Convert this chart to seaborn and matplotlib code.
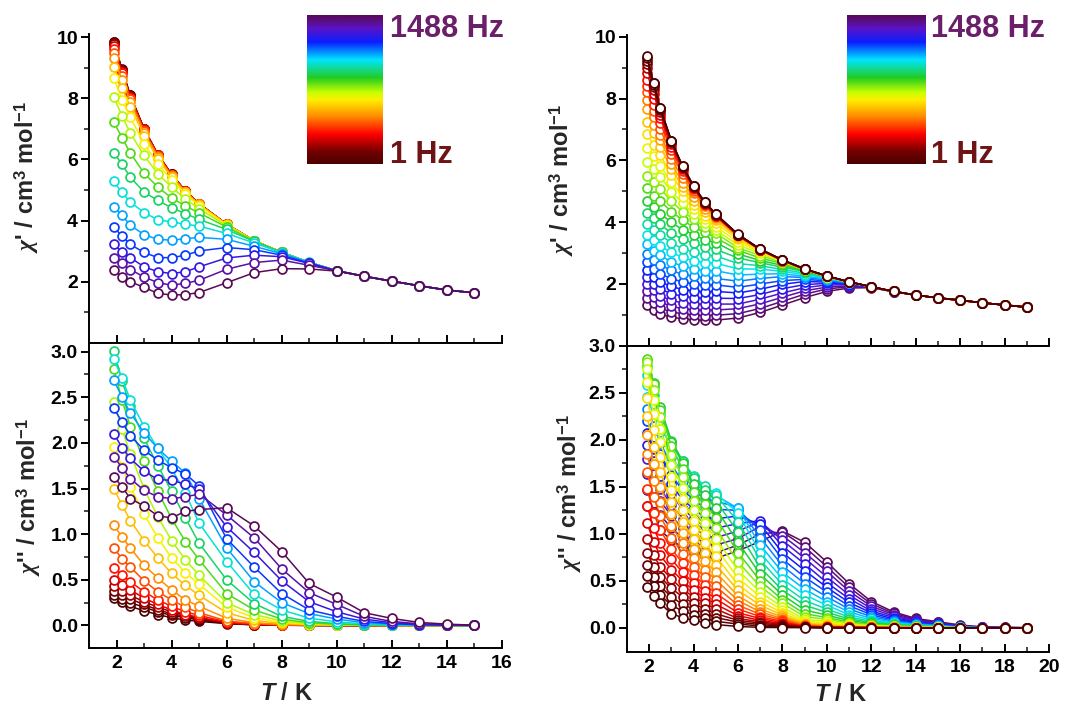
import numpy as np
import pandas as pd
import matplotlib
matplotlib.use("Agg")
import matplotlib.pyplot as plt
import seaborn as sns
from matplotlib.colors import LinearSegmentedColormap
from matplotlib.ticker import FixedLocator

sns.set_theme(style="ticks")
plt.rcParams["font.family"] = ["Liberation Sans", "DejaVu Sans"]
plt.rcParams["font.weight"] = "bold"
plt.rcParams["mathtext.fontset"] = "custom"
plt.rcParams["mathtext.rm"] = "Liberation Sans:bold"
plt.rcParams["mathtext.bf"] = "Liberation Sans:bold"
plt.rcParams["mathtext.it"] = "Liberation Serif:bold:italic"
plt.rcParams["mathtext.sf"] = "Liberation Sans:bold:italic"

# ---------------- data: left sample (19 frequencies, 1 Hz ... 1488 Hz) ----------------
T_left = [1.9, 2.2, 2.5, 3, 3.5, 4, 4.5, 5, 6, 7, 8, 9, 10, 11, 12, 13, 14, 15]

# chi' (one row per frequency, low -> high)
chi1_left = [
    [9.85, 8.94, 8.09, 7.00, 6.16, 5.51, 4.97, 4.55, 3.88, 3.34, 2.96, 2.63, 2.36, 2.18, 2.02, 1.87, 1.73, 1.64],
    [9.84, 8.93, 8.09, 7.00, 6.16, 5.51, 4.97, 4.55, 3.88, 3.34, 2.96, 2.63, 2.36, 2.18, 2.02, 1.87, 1.73, 1.64],
    [9.82, 8.92, 8.08, 6.99, 6.16, 5.51, 4.97, 4.55, 3.88, 3.34, 2.96, 2.63, 2.36, 2.18, 2.02, 1.87, 1.73, 1.64],
    [9.78, 8.90, 8.07, 6.99, 6.15, 5.50, 4.97, 4.55, 3.88, 3.34, 2.96, 2.63, 2.36, 2.18, 2.02, 1.87, 1.73, 1.64],
    [9.72, 8.87, 8.05, 6.98, 6.15, 5.50, 4.96, 4.54, 3.88, 3.34, 2.96, 2.63, 2.36, 2.18, 2.02, 1.87, 1.73, 1.64],
    [9.62, 8.82, 8.02, 6.96, 6.14, 5.49, 4.96, 4.54, 3.88, 3.34, 2.96, 2.63, 2.36, 2.18, 2.02, 1.87, 1.73, 1.64],
    [9.48, 8.74, 7.97, 6.93, 6.12, 5.48, 4.95, 4.54, 3.88, 3.34, 2.96, 2.63, 2.36, 2.18, 2.02, 1.87, 1.73, 1.64],
    [9.30, 8.60, 7.88, 6.88, 6.09, 5.46, 4.94, 4.53, 3.88, 3.34, 2.96, 2.63, 2.36, 2.18, 2.02, 1.87, 1.73, 1.64],
    [9.03, 8.34, 7.73, 6.78, 6.02, 5.42, 4.92, 4.52, 3.87, 3.34, 2.96, 2.63, 2.36, 2.18, 2.02, 1.87, 1.73, 1.64],
    [8.66, 7.95, 7.38, 6.51, 5.86, 5.32, 4.86, 4.49, 3.86, 3.34, 2.96, 2.63, 2.36, 2.18, 2.02, 1.87, 1.73, 1.64],
    [8.03, 7.43, 6.86, 6.13, 5.53, 5.10, 4.70, 4.39, 3.83, 3.34, 2.96, 2.63, 2.36, 2.18, 2.02, 1.87, 1.73, 1.64],
    [7.22, 6.71, 6.21, 5.55, 5.10, 4.74, 4.48, 4.25, 3.79, 3.33, 2.96, 2.63, 2.36, 2.18, 2.02, 1.87, 1.73, 1.64],
    [6.22, 5.84, 5.42, 4.93, 4.66, 4.42, 4.23, 4.04, 3.71, 3.32, 2.96, 2.63, 2.36, 2.18, 2.02, 1.87, 1.73, 1.64],
    [5.28, 4.92, 4.61, 4.26, 4.03, 3.96, 3.88, 3.82, 3.58, 3.27, 2.95, 2.64, 2.36, 2.18, 2.02, 1.87, 1.73, 1.64],
    [4.45, 4.17, 3.85, 3.54, 3.39, 3.36, 3.41, 3.45, 3.39, 3.16, 2.92, 2.63, 2.36, 2.18, 2.02, 1.87, 1.73, 1.64],
    [3.79, 3.49, 3.22, 2.96, 2.79, 2.79, 2.87, 3.01, 3.12, 3.05, 2.87, 2.61, 2.36, 2.18, 2.02, 1.87, 1.73, 1.64],
    [3.22, 2.98, 2.79, 2.49, 2.33, 2.27, 2.33, 2.49, 2.78, 2.87, 2.82, 2.60, 2.36, 2.18, 2.02, 1.87, 1.73, 1.64],
    [2.79, 2.60, 2.40, 2.16, 1.97, 1.89, 1.95, 2.05, 2.41, 2.63, 2.71, 2.54, 2.36, 2.18, 2.02, 1.87, 1.73, 1.64],
    [2.40, 2.16, 2.00, 1.82, 1.62, 1.57, 1.58, 1.65, 1.97, 2.30, 2.43, 2.42, 2.35, 2.18, 2.02, 1.87, 1.73, 1.64],
]

# chi'' (one row per frequency, low -> high)
chi2_left = [
    [0.30, 0.26, 0.21, 0.16, 0.12, 0.085, 0.06, 0.045, 0.02, 0.007, 0.003, 0.001, 0.0, 0.0, 0.0, 0.0, 0.0, 0.0],
    [0.33, 0.29, 0.25, 0.20, 0.15, 0.11, 0.085, 0.06, 0.022, 0.008, 0.003, 0.001, 0.0, 0.0, 0.0, 0.0, 0.0, 0.0],
    [0.38, 0.33, 0.29, 0.23, 0.17, 0.13, 0.10, 0.07, 0.025, 0.009, 0.004, 0.001, 0.0, 0.0, 0.0, 0.0, 0.0, 0.0],
    [0.43, 0.38, 0.33, 0.26, 0.20, 0.15, 0.11, 0.08, 0.028, 0.010, 0.004, 0.002, 0.0, 0.0, 0.0, 0.0, 0.0, 0.0],
    [0.50, 0.44, 0.39, 0.30, 0.23, 0.17, 0.12, 0.09, 0.03, 0.012, 0.005, 0.002, 0.001, 0.0, 0.0, 0.0, 0.0, 0.0],
    [0.63, 0.55, 0.48, 0.37, 0.28, 0.21, 0.15, 0.11, 0.04, 0.015, 0.006, 0.002, 0.001, 0.0, 0.0, 0.0, 0.0, 0.0],
    [0.85, 0.73, 0.64, 0.49, 0.37, 0.28, 0.20, 0.14, 0.05, 0.020, 0.008, 0.003, 0.001, 0.0, 0.0, 0.0, 0.0, 0.0],
    [1.10, 0.97, 0.85, 0.66, 0.52, 0.39, 0.28, 0.21, 0.08, 0.030, 0.012, 0.005, 0.002, 0.001, 0.0, 0.0, 0.0, 0.0],
    [1.50, 1.32, 1.15, 0.93, 0.74, 0.57, 0.44, 0.33, 0.14, 0.055, 0.022, 0.009, 0.004, 0.002, 0.001, 0.0, 0.0, 0.0],
    [1.96, 1.74, 1.52, 1.22, 0.96, 0.74, 0.58, 0.45, 0.20, 0.085, 0.035, 0.014, 0.006, 0.003, 0.001, 0.0, 0.0, 0.0],
    [2.45, 2.15, 1.88, 1.50, 1.19, 0.93, 0.72, 0.55, 0.25, 0.12, 0.05, 0.02, 0.01, 0.004, 0.002, 0.001, 0.0, 0.0],
    [2.81, 2.47, 2.18, 1.80, 1.47, 1.17, 0.92, 0.72, 0.35, 0.17, 0.07, 0.03, 0.013, 0.006, 0.003, 0.001, 0.0, 0.0],
    [3.01, 2.68, 2.40, 2.05, 1.75, 1.47, 1.18, 0.90, 0.50, 0.24, 0.10, 0.045, 0.02, 0.009, 0.004, 0.002, 0.001, 0.0],
    [2.92, 2.71, 2.47, 2.18, 1.94, 1.72, 1.45, 1.12, 0.70, 0.34, 0.17, 0.08, 0.04, 0.018, 0.008, 0.003, 0.001, 0.0],
    [2.69, 2.50, 2.33, 2.11, 1.94, 1.80, 1.67, 1.39, 0.85, 0.48, 0.25, 0.13, 0.07, 0.03, 0.013, 0.005, 0.002, 0.0],
    [2.38, 2.23, 2.08, 1.92, 1.81, 1.73, 1.66, 1.53, 0.95, 0.64, 0.35, 0.17, 0.10, 0.045, 0.02, 0.008, 0.003, 0.0],
    [2.10, 1.95, 1.83, 1.69, 1.60, 1.59, 1.55, 1.49, 1.08, 0.80, 0.49, 0.26, 0.15, 0.07, 0.03, 0.012, 0.005, 0.001],
    [1.85, 1.73, 1.61, 1.48, 1.41, 1.39, 1.41, 1.44, 1.21, 0.96, 0.62, 0.36, 0.23, 0.10, 0.044, 0.018, 0.008, 0.002],
    [1.63, 1.52, 1.39, 1.31, 1.20, 1.18, 1.25, 1.27, 1.29, 1.09, 0.81, 0.46, 0.31, 0.14, 0.077, 0.033, 0.015, 0.003],
]

# ---------------- data: right sample (30 frequencies, 1 Hz ... 1488 Hz) ----------------
T_right = [1.9, 2.2, 2.5, 3, 3.5, 4, 4.5, 5, 6, 7, 8, 9, 10, 11, 12, 13, 14, 15, 16, 17, 18, 19]

# chi' (one row per temperature; columns = frequencies low -> high)
chi1_right_byT = [
    [9.38, 9.30, 9.22, 9.12, 9.00, 8.82, 8.60, 8.40, 8.20, 7.95, 7.65, 7.25, 6.85, 6.40, 5.95, 5.50, 5.10, 4.70, 4.30, 3.95, 3.60, 3.28, 2.98, 2.70, 2.45, 2.22, 2.00, 1.78, 1.55, 1.33],
    [8.51, 8.49, 8.43, 8.36, 8.27, 8.15, 7.98, 7.78, 7.59, 7.41, 7.16, 6.88, 6.51, 6.13, 5.71, 5.29, 4.86, 4.49, 4.12, 3.74, 3.41, 3.08, 2.78, 2.50, 2.23, 2.00, 1.79, 1.57, 1.37, 1.15],
    [7.69, 7.68, 7.67, 7.62, 7.55, 7.46, 7.36, 7.20, 7.00, 6.83, 6.66, 6.43, 6.17, 5.82, 5.47, 5.08, 4.68, 4.28, 3.93, 3.58, 3.23, 2.93, 2.62, 2.33, 2.07, 1.83, 1.61, 1.41, 1.21, 1.02],
    [6.64, 6.63, 6.62, 6.61, 6.58, 6.52, 6.44, 6.35, 6.20, 6.04, 5.88, 5.73, 5.53, 5.30, 4.99, 4.68, 4.34, 3.99, 3.64, 3.33, 3.02, 2.71, 2.44, 2.17, 1.92, 1.69, 1.47, 1.28, 1.10, 0.93],
    [5.82, 5.81, 5.80, 5.79, 5.78, 5.76, 5.71, 5.64, 5.56, 5.43, 5.28, 5.14, 5.01, 4.83, 4.62, 4.34, 4.07, 3.76, 3.45, 3.14, 2.86, 2.58, 2.31, 2.07, 1.82, 1.60, 1.39, 1.20, 1.03, 0.87],
    [5.18, 5.17, 5.16, 5.15, 5.14, 5.13, 5.12, 5.08, 5.02, 4.94, 4.83, 4.69, 4.57, 4.44, 4.28, 4.10, 3.84, 3.60, 3.32, 3.03, 2.75, 2.50, 2.25, 2.00, 1.78, 1.56, 1.36, 1.17, 1.00, 0.84],
    [4.66, 4.65, 4.64, 4.63, 4.62, 4.61, 4.60, 4.59, 4.57, 4.51, 4.44, 4.34, 4.21, 4.10, 3.98, 3.84, 3.67, 3.43, 3.21, 2.95, 2.69, 2.43, 2.20, 1.97, 1.74, 1.54, 1.34, 1.15, 0.98, 0.82],
    [4.27, 4.26, 4.25, 4.24, 4.23, 4.22, 4.21, 4.20, 4.19, 4.17, 4.13, 4.07, 3.97, 3.85, 3.74, 3.64, 3.50, 3.34, 3.12, 2.91, 2.67, 2.43, 2.18, 1.97, 1.76, 1.54, 1.35, 1.16, 0.99, 0.83],
    [3.61, 3.60, 3.60, 3.59, 3.59, 3.58, 3.58, 3.57, 3.57, 3.56, 3.54, 3.50, 3.44, 3.36, 3.26, 3.17, 3.09, 2.97, 2.84, 2.66, 2.49, 2.29, 2.09, 1.89, 1.71, 1.53, 1.35, 1.20, 1.04, 0.90],
    [3.13, 3.13, 3.12, 3.12, 3.12, 3.11, 3.11, 3.11, 3.10, 3.10, 3.10, 3.09, 3.07, 3.03, 2.99, 2.92, 2.84, 2.76, 2.69, 2.59, 2.48, 2.32, 2.18, 2.00, 1.83, 1.66, 1.51, 1.36, 1.21, 1.08],
    [2.78, 2.78, 2.78, 2.77, 2.77, 2.77, 2.77, 2.76, 2.76, 2.76, 2.76, 2.75, 2.75, 2.74, 2.73, 2.70, 2.66, 2.60, 2.54, 2.47, 2.41, 2.33, 2.24, 2.11, 1.99, 1.85, 1.71, 1.57, 1.44, 1.32],
    [2.49, 2.49, 2.49, 2.49, 2.48, 2.48, 2.48, 2.48, 2.48, 2.47, 2.47, 2.47, 2.47, 2.47, 2.47, 2.46, 2.45, 2.43, 2.40, 2.35, 2.30, 2.25, 2.21, 2.15, 2.08, 1.98, 1.88, 1.78, 1.67, 1.56],
    [2.26, 2.26, 2.26, 2.26, 2.26, 2.25, 2.25, 2.25, 2.25, 2.25, 2.25, 2.25, 2.24, 2.24, 2.24, 2.24, 2.24, 2.24, 2.23, 2.22, 2.20, 2.17, 2.13, 2.10, 2.06, 2.02, 1.97, 1.90, 1.84, 1.76],
    [2.07, 2.07, 2.07, 2.07, 2.07, 2.07, 2.07, 2.07, 2.06, 2.06, 2.06, 2.06, 2.06, 2.06, 2.06, 2.06, 2.06, 2.06, 2.05, 2.05, 2.05, 2.04, 2.03, 2.02, 2.01, 1.99, 1.97, 1.94, 1.91, 1.87],
    [1.91, 1.91, 1.91, 1.91, 1.91, 1.91, 1.91, 1.91, 1.91, 1.91, 1.91, 1.91, 1.91, 1.91, 1.91, 1.91, 1.91, 1.91, 1.91, 1.91, 1.91, 1.91, 1.91, 1.91, 1.91, 1.90, 1.90, 1.89, 1.89, 1.88],
    [1.76, 1.76, 1.76, 1.76, 1.76, 1.76, 1.76, 1.76, 1.76, 1.76, 1.76, 1.76, 1.76, 1.76, 1.76, 1.76, 1.76, 1.76, 1.76, 1.76, 1.76, 1.76, 1.76, 1.76, 1.76, 1.76, 1.76, 1.75, 1.75, 1.75],
    [1.64, 1.64, 1.64, 1.64, 1.64, 1.64, 1.64, 1.64, 1.64, 1.64, 1.64, 1.64, 1.64, 1.64, 1.64, 1.64, 1.64, 1.64, 1.64, 1.64, 1.64, 1.64, 1.64, 1.64, 1.64, 1.64, 1.64, 1.64, 1.64, 1.64],
    [1.55, 1.55, 1.55, 1.55, 1.55, 1.55, 1.55, 1.55, 1.55, 1.55, 1.55, 1.55, 1.55, 1.55, 1.55, 1.55, 1.55, 1.55, 1.55, 1.55, 1.55, 1.55, 1.55, 1.55, 1.55, 1.55, 1.55, 1.55, 1.55, 1.55],
    [1.48, 1.48, 1.48, 1.47, 1.47, 1.47, 1.47, 1.47, 1.47, 1.47, 1.47, 1.47, 1.47, 1.47, 1.47, 1.47, 1.47, 1.47, 1.47, 1.47, 1.47, 1.47, 1.47, 1.47, 1.47, 1.47, 1.47, 1.47, 1.47, 1.47],
    [1.39, 1.39, 1.39, 1.39, 1.39, 1.39, 1.39, 1.39, 1.39, 1.39, 1.39, 1.39, 1.39, 1.39, 1.39, 1.39, 1.39, 1.39, 1.39, 1.39, 1.39, 1.39, 1.39, 1.39, 1.39, 1.39, 1.39, 1.39, 1.39, 1.39],
    [1.32, 1.32, 1.32, 1.32, 1.32, 1.32, 1.32, 1.32, 1.32, 1.32, 1.32, 1.32, 1.32, 1.32, 1.32, 1.32, 1.32, 1.32, 1.32, 1.32, 1.32, 1.32, 1.32, 1.32, 1.32, 1.32, 1.32, 1.32, 1.32, 1.32],
    [1.25, 1.25, 1.25, 1.25, 1.25, 1.25, 1.25, 1.25, 1.25, 1.25, 1.25, 1.25, 1.25, 1.25, 1.25, 1.25, 1.25, 1.25, 1.25, 1.25, 1.25, 1.25, 1.25, 1.25, 1.25, 1.25, 1.25, 1.25, 1.25, 1.25],
]

# chi'' (one row per temperature; columns = frequencies low -> high)
chi2_right_byT = [
    [0.43, 0.55, 0.67, 0.80, 0.95, 1.12, 1.30, 1.48, 1.66, 1.85, 2.05, 2.25, 2.45, 2.62, 2.75, 2.83, 2.86, 2.84, 2.78, 2.69, 2.58, 2.46, 2.33, 2.20, 2.07, 1.94, 1.80, 1.64, 1.47, 1.30],
    [0.34, 0.44, 0.54, 0.65, 0.77, 0.91, 1.06, 1.22, 1.39, 1.56, 1.74, 1.92, 2.10, 2.27, 2.42, 2.53, 2.59, 2.60, 2.56, 2.48, 2.38, 2.27, 2.15, 2.03, 1.90, 1.77, 1.64, 1.49, 1.33, 1.15],
    [0.26, 0.35, 0.44, 0.54, 0.65, 0.77, 0.90, 1.04, 1.19, 1.34, 1.50, 1.66, 1.82, 1.98, 2.12, 2.24, 2.32, 2.35, 2.33, 2.27, 2.18, 2.08, 1.97, 1.85, 1.73, 1.61, 1.48, 1.35, 1.20, 1.04],
    [0.15, 0.24, 0.33, 0.42, 0.52, 0.62, 0.73, 0.84, 0.96, 1.08, 1.21, 1.34, 1.47, 1.60, 1.73, 1.84, 1.93, 1.98, 1.99, 1.96, 1.90, 1.82, 1.73, 1.63, 1.53, 1.42, 1.31, 1.19, 1.06, 0.93],
    [0.11, 0.18, 0.25, 0.33, 0.41, 0.50, 0.59, 0.69, 0.79, 0.90, 1.01, 1.13, 1.25, 1.37, 1.49, 1.60, 1.69, 1.75, 1.78, 1.77, 1.72, 1.65, 1.56, 1.46, 1.36, 1.26, 1.16, 1.06, 0.96, 0.86],
    [0.08, 0.14, 0.20, 0.26, 0.33, 0.40, 0.48, 0.56, 0.65, 0.74, 0.84, 0.94, 1.04, 1.14, 1.25, 1.35, 1.45, 1.53, 1.59, 1.62, 1.60, 1.54, 1.46, 1.37, 1.27, 1.17, 1.07, 0.97, 0.88, 0.80],
    [0.055, 0.10, 0.15, 0.20, 0.26, 0.32, 0.39, 0.46, 0.54, 0.62, 0.71, 0.80, 0.90, 1.00, 1.11, 1.22, 1.32, 1.41, 1.47, 1.51, 1.50, 1.45, 1.37, 1.27, 1.17, 1.07, 0.98, 0.90, 0.82, 0.76],
    [0.035, 0.07, 0.11, 0.15, 0.20, 0.25, 0.31, 0.37, 0.44, 0.51, 0.59, 0.67, 0.76, 0.85, 0.95, 1.06, 1.17, 1.27, 1.35, 1.41, 1.43, 1.41, 1.35, 1.26, 1.16, 1.06, 0.96, 0.88, 0.80, 0.74],
    [0.015, 0.04, 0.06, 0.08, 0.10, 0.13, 0.16, 0.20, 0.24, 0.29, 0.34, 0.40, 0.46, 0.53, 0.61, 0.70, 0.80, 0.91, 1.02, 1.13, 1.22, 1.27, 1.28, 1.25, 1.19, 1.11, 1.03, 0.95, 0.88, 0.82],
    [0.005, 0.02, 0.035, 0.05, 0.065, 0.08, 0.10, 0.12, 0.145, 0.17, 0.20, 0.24, 0.28, 0.33, 0.38, 0.44, 0.50, 0.57, 0.64, 0.72, 0.80, 0.88, 0.96, 1.04, 1.10, 1.14, 1.13, 1.08, 1.00, 0.92],
    [0.003, 0.01, 0.018, 0.026, 0.035, 0.045, 0.056, 0.068, 0.082, 0.098, 0.116, 0.136, 0.16, 0.19, 0.22, 0.26, 0.30, 0.35, 0.40, 0.46, 0.52, 0.59, 0.66, 0.73, 0.80, 0.87, 0.93, 0.98, 1.02, 1.03],
    [0.002, 0.004, 0.006, 0.008, 0.010, 0.013, 0.016, 0.020, 0.025, 0.031, 0.038, 0.046, 0.055, 0.07, 0.09, 0.12, 0.15, 0.19, 0.24, 0.29, 0.35, 0.41, 0.47, 0.54, 0.61, 0.68, 0.74, 0.80, 0.86, 0.91],
    [0.001, 0.001, 0.002, 0.003, 0.004, 0.005, 0.006, 0.009, 0.012, 0.016, 0.022, 0.03, 0.04, 0.055, 0.07, 0.09, 0.11, 0.135, 0.165, 0.20, 0.24, 0.28, 0.33, 0.38, 0.43, 0.48, 0.54, 0.60, 0.65, 0.70],
    [0.001, 0.001, 0.002, 0.002, 0.003, 0.004, 0.005, 0.006, 0.008, 0.010, 0.013, 0.018, 0.024, 0.031, 0.040, 0.050, 0.062, 0.077, 0.095, 0.115, 0.14, 0.17, 0.20, 0.235, 0.27, 0.31, 0.35, 0.39, 0.43, 0.47],
    [0.0, 0.0, 0.001, 0.001, 0.002, 0.002, 0.003, 0.004, 0.005, 0.006, 0.008, 0.011, 0.015, 0.019, 0.024, 0.030, 0.038, 0.047, 0.058, 0.070, 0.085, 0.10, 0.12, 0.14, 0.16, 0.18, 0.205, 0.23, 0.255, 0.28],
    [0.0, 0.0, 0.0, 0.0, 0.001, 0.001, 0.002, 0.002, 0.003, 0.004, 0.005, 0.007, 0.009, 0.012, 0.015, 0.019, 0.024, 0.029, 0.035, 0.042, 0.05, 0.06, 0.07, 0.082, 0.095, 0.11, 0.125, 0.14, 0.155, 0.17],
    [0.0, 0.0, 0.0, 0.0, 0.0, 0.0, 0.001, 0.001, 0.002, 0.002, 0.003, 0.004, 0.005, 0.007, 0.009, 0.011, 0.014, 0.017, 0.02, 0.024, 0.029, 0.035, 0.041, 0.048, 0.056, 0.064, 0.073, 0.082, 0.09, 0.10],
    [0.0, 0.0, 0.0, 0.0, 0.0, 0.0, 0.0, 0.0, 0.001, 0.001, 0.002, 0.002, 0.003, 0.004, 0.005, 0.006, 0.008, 0.010, 0.012, 0.015, 0.018, 0.022, 0.026, 0.031, 0.036, 0.041, 0.046, 0.052, 0.058, 0.065],
    [0.0, 0.0, 0.0, 0.0, 0.0, 0.0, 0.0, 0.0, 0.0, 0.0, 0.0, 0.0, 0.0, 0.0, 0.001, 0.001, 0.002, 0.002, 0.003, 0.004, 0.005, 0.006, 0.008, 0.010, 0.012, 0.014, 0.017, 0.020, 0.025, 0.030],
    [0.0, 0.0, 0.0, 0.0, 0.0, 0.0, 0.0, 0.0, 0.0, 0.0, 0.0, 0.0, 0.0, 0.0, 0.0, 0.0, 0.0, 0.0, 0.0, 0.0, 0.001, 0.001, 0.002, 0.002, 0.003, 0.004, 0.005, 0.006, 0.008, 0.010],
    [0.0, 0.0, 0.0, 0.0, 0.0, 0.0, 0.0, 0.0, 0.0, 0.0, 0.0, 0.0, 0.0, 0.0, 0.0, 0.0, 0.0, 0.0, 0.0, 0.0, 0.0, 0.0, 0.0, 0.0, 0.001, 0.001, 0.002, 0.003, 0.004, 0.005],
    [0.0, 0.0, 0.0, 0.0, 0.0, 0.0, 0.0, 0.0, 0.0, 0.0, 0.0, 0.0, 0.0, 0.0, 0.0, 0.0, 0.0, 0.0, 0.0, 0.0, 0.0, 0.0, 0.0, 0.0, 0.0, 0.0, 0.0, 0.001, 0.001, 0.002],
]

freq_labels = ["1 Hz", "1488 Hz"]

# ---------------- styling ----------------
cmap = LinearSegmentedColormap.from_list("acfreq", [
    (0.00, "#4d0000"), (0.08, "#700000"), (0.20, "#ff0000"), (0.32, "#ff8c00"),
    (0.43, "#ffee00"), (0.48, "#c8ff00"), (0.58, "#22cc22"), (0.70, "#00e5ff"),
    (0.82, "#0a1eff"), (0.91, "#5a14c8"), (1.00, "#5a0a55")])

W, H = 1071, 709
fig = plt.figure(figsize=(W / 100, H / 100), dpi=100)
fig.patch.set_facecolor("white")


def fx(px):
    return px / W


def fy(py):
    return 1 - py / H


def long_form(T, rows):
    arr = np.asarray(rows, dtype=float)
    recs = []
    for k, curve in enumerate(arr):
        for t, v in zip(T, curve):
            recs.append((k, t, v))
    return pd.DataFrame(recs, columns=["curve", "T", "chi"])


def draw(ax, df, colors, order):
    sns.lineplot(data=df, x="T", y="chi", hue="curve", hue_order=order,
                 palette={k: colors[k] for k in order}, marker="o",
                 markersize=6.4, linewidth=1.1, estimator=None, sort=False,
                 legend=False, ax=ax)
    for ln in ax.lines:
        c = ln.get_color()
        ln.set_markeredgecolor(c)
        ln.set_markerfacecolor("white")
        ln.set_markeredgewidth(1.25)


def style_common(ax):
    for s in ["top", "right", "bottom", "left"]:
        ax.spines[s].set_linewidth(1.4)
        ax.spines[s].set_color("black")
    ax.set_facecolor("white")
    ax.tick_params(axis="y", which="major", direction="out", length=6, width=1.4,
                   labelsize=14, pad=2, colors="black")
    ax.tick_params(axis="y", which="minor", direction="out", length=3.5, width=1.2)
    ax.tick_params(axis="x", which="major", direction="in", length=6, width=1.4,
                   labelsize=14, pad=5, colors="black")
    ax.tick_params(axis="x", which="minor", direction="in", length=3.5, width=1.2)


ylab1 = r"$\chi$' / cm$^{3}$ mol$^{-1}$"
ylab2 = r"$\chi$'' / cm$^{3}$ mol$^{-1}$"
xlab = r"$\mathsf{T}$ / K"

panels = [
    dict(x0=89, x1=502, ty0=34, ty1=343, by0=343, by1=648.3, T=T_left,
         c1=chi1_left, c2=chi2_left, xmax=16, tyl=(0, 10.1), byl=(-0.25, 3.095),
         cpos=np.linspace(0, 1, len(chi1_left)) ** 1.2, last="high",
         lab_top=(-0.116, 0.537), lab_bot=(-0.111, 0.496), xlab_pos=(0.479, -0.112),
         cb=(307, 15, 76, 149), txt_x=390),
    dict(x0=627, x1=1049, ty0=35.2, ty1=345.8, by0=345.8, by1=652.3, T=T_right,
         c1=np.asarray(chi1_right_byT).T, c2=np.asarray(chi2_right_byT).T, xmax=20,
         tyl=(0, 10.05), byl=(-0.26, 3.0),
         cpos=np.linspace(0, 1, len(chi1_right_byT[0])), last="low",
         lab_top=(-0.121, 0.534), lab_bot=(-0.102, 0.52), xlab_pos=(0.507, -0.1),
         cb=(847, 15, 79, 149), txt_x=931),
]

for p in panels:
    n = len(p["c1"])
    colors = [cmap(v) for v in p["cpos"]]
    order = list(range(n)) if p["last"] == "high" else list(range(n))[::-1]

    ax_t = fig.add_axes([fx(p["x0"]), fy(p["ty1"]), fx(p["x1"] - p["x0"]), (p["ty1"] - p["ty0"]) / H])
    ax_b = fig.add_axes([fx(p["x0"]), fy(p["by1"]), fx(p["x1"] - p["x0"]), (p["by1"] - p["by0"]) / H])

    draw(ax_t, long_form(p["T"], p["c1"]), colors, order)
    draw(ax_b, long_form(p["T"], p["c2"]), colors, order)

    for ax in (ax_t, ax_b):
        style_common(ax)
        ax.set_xlim(1, p["xmax"])
        ax.set_xticks(np.arange(2, p["xmax"] + 1, 2))
        ax.xaxis.set_minor_locator(FixedLocator(np.arange(1, p["xmax"], 2)))
        ax.spines["right"].set_visible(False)

    ax_t.spines["top"].set_visible(False)
    ax_t.set_ylim(*p["tyl"])
    ax_t.set_yticks([2, 4, 6, 8, 10])
    ax_t.yaxis.set_minor_locator(FixedLocator([1, 3, 5, 7, 9]))
    ax_t.tick_params(axis="x", labelbottom=False)
    ax_t.set_xlabel("")
    ax_t.set_ylabel(ylab1, fontsize=17, fontweight="bold")
    ax_t.yaxis.set_label_coords(*p["lab_top"])

    ax_b.set_ylim(*p["byl"])
    ax_b.set_yticks([0.0, 0.5, 1.0, 1.5, 2.0, 2.5, 3.0])
    ax_b.set_yticklabels(["0.0", "0.5", "1.0", "1.5", "2.0", "2.5", "3.0"])
    ax_b.yaxis.set_minor_locator(FixedLocator([0.25, 0.75, 1.25, 1.75, 2.25, 2.75]))
    ax_b.tick_params(axis="x", which="both", top=False)
    ax_b.set_ylabel(ylab2, fontsize=17, fontweight="bold")
    ax_b.yaxis.set_label_coords(*p["lab_bot"])
    ax_b.set_xlabel(xlab, fontsize=17, fontweight="bold")
    ax_b.xaxis.set_label_coords(*p["xlab_pos"])

    # colour-scale inset
    cx, cy, cw, ch = p["cb"]
    ax_c = fig.add_axes([fx(cx), fy(cy + ch), fx(cw), ch / H])
    ax_c.imshow(np.linspace(0, 1, 256).reshape(-1, 1), cmap=cmap, aspect="auto",
                origin="lower", extent=(0, 1, 0, 1))
    ax_c.set_axis_off()
    fig.text(fx(p["txt_x"]), fy(37), freq_labels[1], color="#6b1f6b", fontsize=22,
             fontweight="bold", va="baseline", ha="left")
    fig.text(fx(p["txt_x"]), fy(163), freq_labels[0], color="#6e1414", fontsize=22,
             fontweight="bold", va="baseline", ha="left")

fig.savefig("out.png", dpi=100, facecolor="white")
